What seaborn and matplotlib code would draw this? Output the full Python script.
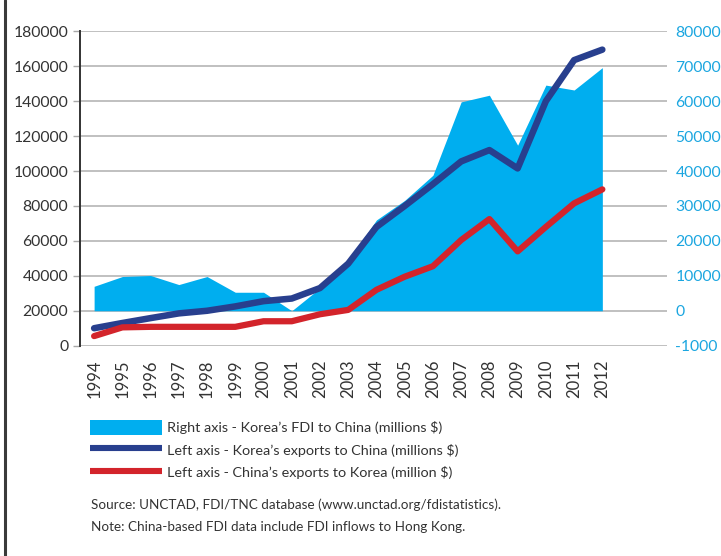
import matplotlib
matplotlib.use("Agg")
import matplotlib.pyplot as plt
import numpy as np
import pandas as pd
import seaborn as sns
from matplotlib.lines import Line2D
from matplotlib.patches import Patch

years = [str(y) for y in range(1994, 2013)]
korea_exports = [10000, 13000, 15800, 18500, 20000, 22500, 25500, 27000, 33000, 47000,
                 68000, 80000, 92500, 105500, 112000, 101500, 140000, 163500, 169500]
china_exports = [5500, 10500, 10800, 10800, 10800, 10800, 14000, 14000, 18000, 20500,
                 32000, 39500, 45500, 60500, 72500, 54000, 68000, 81500, 89500]
korea_fdi = [7000, 9800, 10100, 7500, 9800, 5300, 5300, 0, 6500, 14500,
             26000, 31600, 38800, 59800, 61700, 47400, 64600, 63200, 69600]

left_ticks = list(range(0, 180001, 20000))
right_ticks = list(range(-10000, 80001, 10000))
right_labels = ["-1000"] + [str(v) for v in right_ticks[1:]]

legend_labels = ["Right axis - Korea’s FDI to China (millions $)",
                 "Left axis - Korea’s exports to China (millions $)",
                 "Left axis - China’s exports to Korea (million $)"]
source = "Source: UNCTAD, FDI/TNC database (www.unctad.org/fdistatistics)."
note = "Note: China-based FDI data include FDI inflows to Hong Kong."

FDI_BLUE = "#00AEEF"
DARK_BLUE = "#283F8E"
RED = "#D3242B"
TEXT = "#333333"

df = pd.DataFrame({"pos": np.arange(len(years)), "year": years,
                   "korea_exports": korea_exports,
                   "china_exports": china_exports,
                   "korea_fdi": korea_fdi})

sns.set_style("white")
plt.rcParams["font.family"] = ["Lato", "DejaVu Sans"]

W, H = 721, 556
fig = plt.figure(figsize=(W / 100, H / 100), dpi=100)
ax = fig.add_axes([80 / W, 210.3 / H, 587 / W, 314.4 / H])
ax2 = ax.twinx()

# right axis: FDI area + gridlines, drawn underneath
ax2.fill_between(df["pos"], 0, df["korea_fdi"], color=FDI_BLUE, linewidth=0, zorder=2)
ax2.set_ylim(-10000, 80000)
ax2.set_yticks(right_ticks, right_labels)
ax2.grid(axis="y", color="#b5b5b5", linewidth=1.2, zorder=0)
ax2.set_axisbelow(True)
ax2.tick_params(axis="y", length=0, pad=6, labelsize=11.3, labelcolor="#1BA6E0")
for s in ax2.spines.values():
    s.set_visible(False)

# left axis: export lines on top
sns.lineplot(data=df, x="pos", y="korea_exports", ax=ax, color=DARK_BLUE,
             linewidth=4.7, solid_capstyle="round")
sns.lineplot(data=df, x="pos", y="china_exports", ax=ax, color=RED,
             linewidth=4.5, solid_capstyle="round")
ax.set_zorder(2)
ax2.set_zorder(1)
ax.patch.set_visible(False)
ax.set_xlabel("")
ax.set_ylabel("")
ax.set_ylim(0, 180000)
ax.set_yticks(left_ticks, [str(v) for v in left_ticks])
ax.tick_params(axis="y", length=5, width=1, color="#a8a8a8", pad=3.5,
               labelsize=11.3, labelcolor=TEXT)
ax.set_xlim(-0.5, 20.29)
ax.set_xticks(df["pos"], years, rotation=90)
ax.set_xticks(np.arange(-0.5, len(years), 1), minor=True)
ax.tick_params(axis="x", which="major", length=0, pad=10, labelsize=12, labelcolor=TEXT)
ax.tick_params(axis="x", which="minor", length=9.5, width=1.2, color="#555555")
ax.grid(False)
for name, s in ax.spines.items():
    s.set_visible(name == "left")
ax.spines["left"].set_color("#333333")
ax.spines["left"].set_linewidth(1.4)

handles = [Patch(facecolor=FDI_BLUE, edgecolor="none"),
           Line2D([], [], color=DARK_BLUE, linewidth=4.4, solid_capstyle="butt"),
           Line2D([], [], color=RED, linewidth=4.4, solid_capstyle="butt")]
fig.legend(handles, legend_labels, loc="upper left", bbox_to_anchor=(90 / W, 1 - 420 / H),
           frameon=False, fontsize=10.4, handlelength=5.0, handleheight=1.25,
           handletextpad=0.35, labelspacing=0.48, borderpad=0, borderaxespad=0,
           labelcolor=TEXT)

fig.text(91 / W, 1 - 505 / H, source, fontsize=9.7, color=TEXT, va="center")
fig.text(91 / W, 1 - 527 / H, note, fontsize=9.7, color=TEXT, va="center")

# page border on the left
fig.add_artist(Line2D([4.5 / W, 4.5 / W], [0, 1], transform=fig.transFigure,
                      color="#3a3a3a", linewidth=2.2))

fig.savefig("out.png", dpi=100)
